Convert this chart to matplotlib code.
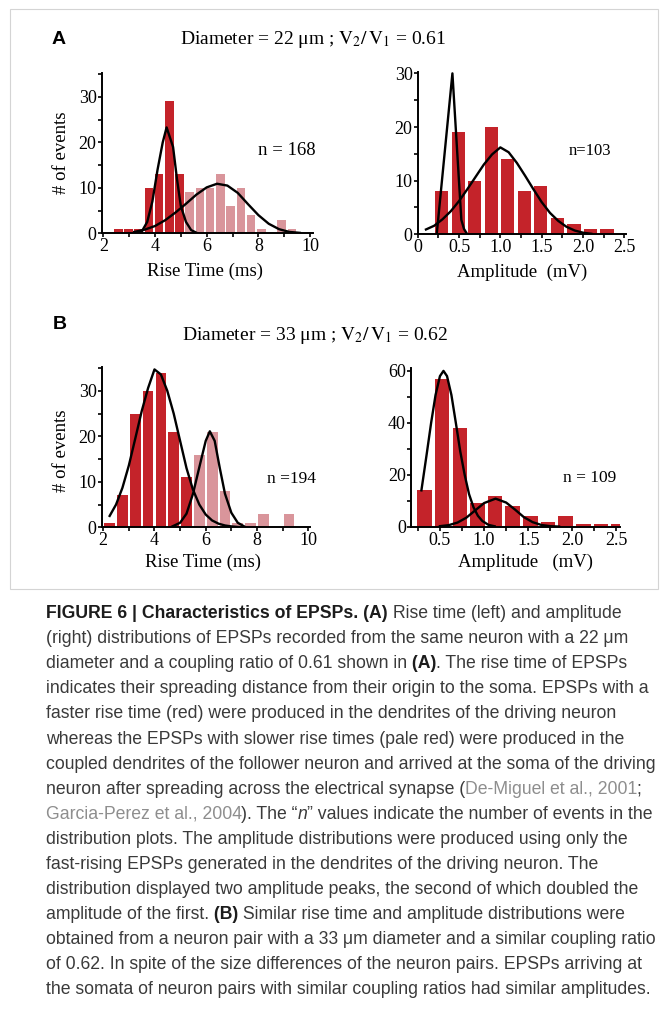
import matplotlib
matplotlib.use("Agg")
import matplotlib.pyplot as plt
from matplotlib.font_manager import FontProperties
from matplotlib.patches import Rectangle

W, H, DPI = 668, 1010, 100

# ---------------- data ----------------
# Panel A - rise time (ms)
a_rise_fast_x = [2.58, 2.975, 3.37, 3.765, 4.16, 4.555, 4.95]
a_rise_fast_n = [1, 1, 1, 10, 13, 29, 13]
a_rise_slow_x = [5.345, 5.74, 6.135, 6.53, 6.925, 7.32, 7.715, 8.11, 8.505, 8.9, 9.295]
a_rise_slow_n = [9, 10, 10, 13, 6, 10, 4, 1, 0, 3, 1]
a_rise_fit1_x = [3.2, 3.5, 3.7, 3.9, 4.1, 4.3, 4.45, 4.7, 4.85, 5.0, 5.2, 5.4, 5.65]
a_rise_fit1_y = [0, 0.5, 2.5, 7, 14, 20, 23.3, 19, 12, 6, 2.5, 0.7, 0]
a_rise_fit2_x = [3.2, 3.6, 4.0, 4.4, 4.8, 5.2, 5.6, 6.0, 6.4, 6.8, 7.2, 7.6, 8.0, 8.4, 8.8, 9.2, 9.6]
a_rise_fit2_y = [0.3, 0.8, 1.6, 2.9, 4.6, 6.5, 8.5, 10.1, 10.9, 10.5, 8.9, 6.4, 4.0, 2.1, 0.9, 0.3, 0.1]

# Panel A - amplitude (mV)
a_amp_x = [0.29, 0.49, 0.69, 0.89, 1.09, 1.29, 1.49, 1.69, 1.89, 2.09, 2.29]
a_amp_n = [8, 19, 10, 20, 14, 8, 9, 3, 2, 1, 1]
a_amp_fit1_x = [0.23, 0.42, 0.528, 0.56, 0.6]
a_amp_fit1_y = [0, 30, 2.7, 1.0, 0]
a_amp_fit2_x = [0.1, 0.2, 0.3, 0.4, 0.5, 0.6, 0.7, 0.8, 0.9, 1.0, 1.1, 1.2, 1.3, 1.4,
                1.5, 1.6, 1.7, 1.8, 1.9, 2.0, 2.1]
a_amp_fit2_y = [0.9, 1.6, 2.8, 4.3, 6.2, 8.4, 10.7, 13.0, 14.9, 16.2, 15.3, 13.3, 10.9, 8.4,
                6.0, 4.0, 2.5, 1.4, 0.7, 0.3, 0.1]

# Panel B - rise time (ms)
b_rise_fast_x = [2.25, 2.75, 3.25, 3.75, 4.25, 4.75, 5.25]
b_rise_fast_n = [1, 7, 25, 30, 34, 21, 11]
b_rise_slow_x = [5.75, 6.25, 6.75, 7.25, 7.75, 8.25, 8.75, 9.25]
b_rise_slow_n = [16, 21, 8, 1, 1, 3, 0, 3]
b_rise_fit1_x = [2.25, 2.5, 2.75, 3.0, 3.25, 3.5, 3.75, 4.0, 4.25, 4.5, 4.75, 5.0, 5.25,
                 5.5, 5.75, 6.0, 6.25, 6.5, 6.75, 7.0, 7.3]
b_rise_fit1_y = [2.5, 5.0, 8.7, 13.6, 19.5, 25.5, 30.6, 34.7, 33.6, 30.0, 25.0, 19.0, 13.0,
                 8.3, 5.0, 2.8, 1.5, 0.8, 0.4, 0.2, 0.05]
b_rise_fit2_x = [4.7, 5.0, 5.25, 5.5, 5.75, 6.0, 6.16, 6.35, 6.55, 6.75, 7.0, 7.25, 7.5]
b_rise_fit2_y = [0.2, 1.0, 3.0, 7.3, 13.2, 19.0, 21.1, 19.0, 13.0, 7.4, 3.2, 1.0, 0.2]

# Panel B - amplitude (mV)
b_amp_x = [0.325, 0.525, 0.725, 0.925, 1.125, 1.325, 1.525, 1.725, 1.925, 2.125, 2.325, 2.525]
b_amp_n = [14, 57, 38, 9, 12, 8, 4, 2, 4, 1, 1, 1]
b_amp_fit1_x = [0.29, 0.35, 0.40, 0.45, 0.50, 0.54, 0.58, 0.63, 0.68, 0.73, 0.78, 0.83,
                0.88, 0.93, 0.98, 1.05, 1.12]
b_amp_fit1_y = [14, 28, 40, 50.7, 58, 60, 58, 50.7, 40, 29, 20, 12.5, 7.5, 4.2, 2.2, 0.7, 0.15]
b_amp_fit2_x = [0.5, 0.6, 0.7, 0.8, 0.9, 1.0, 1.13, 1.25, 1.35, 1.45, 1.55, 1.65, 1.75, 1.85]
b_amp_fit2_y = [0.2, 0.6, 1.6, 3.5, 6.3, 9.1, 10.8, 9.3, 6.6, 3.7, 1.75, 0.66, 0.2, 0.05]

# text
title_a = r"Diameter = 22 μm ; $\mathrm{V}_2/\,\mathrm{V}_1$ = 0.61"
title_b = r"Diameter = 33 μm ; $\mathrm{V}_2/\,\mathrm{V}_1$ = 0.62"
n_labels = ["n = 168", "n=103", "n =194", "n = 109"]
x_labels = ["Rise Time (ms)", "Amplitude  (mV)", "Rise Time (ms)", "Amplitude   (mV)"]
y_label = "# of events"
rise_ticks = [2, 4, 6, 8, 10]
rise_ticklabels = ["2", "4", "6", "8", "10"]
a_amp_ticks = [0, 0.5, 1.0, 1.5, 2.0, 2.5]
a_amp_ticklabels = ["0", "0.5", "1.0", "1.5", "2.0", "2.5"]
b_amp_ticks = [0.5, 1.0, 1.5, 2.0, 2.5]
b_amp_ticklabels = ["0.5", "1.0", "1.5", "2.0", "2.5"]
y30_ticks = [0, 10, 20, 30]
y60_ticks = [0, 20, 40, 60]

caption_lines = [
    [("FIGURE 6 | Characteristics of EPSPs. (A)", "b"), (" Rise time (left) and amplitude", "r")],
    [("(right) distributions of EPSPs recorded from the same neuron with a 22 μm", "r")],
    [("diameter and a coupling ratio of 0.61 shown in", "r"), (" (A)", "b"), (". The rise time of EPSPs", "r")],
    [("indicates their spreading distance from their origin to the soma. EPSPs with a", "r")],
    [("faster rise time (red) were produced in the dendrites of the driving neuron", "r")],
    [("whereas the EPSPs with slower rise times (pale red) were produced in the", "r")],
    [("coupled dendrites of the follower neuron and arrived at the soma of the driving", "r")],
    [("neuron after spreading across the electrical synapse (", "r"), ("De-Miguel et al., 2001", "c"), (";", "r")],
    [("Garcia-Perez et al., 2004", "c"), ("). The \u201c", "r"), ("n", "i"), ("\u201d values indicate the number of events in the", "r")],
    [("distribution plots. The amplitude distributions were produced using only the", "r")],
    [("fast-rising EPSPs generated in the dendrites of the driving neuron. The", "r")],
    [("distribution displayed two amplitude peaks, the second of which doubled the", "r")],
    [("amplitude of the first.", "r"), (" (B)", "b"), (" Similar rise time and amplitude distributions were", "r")],
    [("obtained from a neuron pair with a 33 μm diameter and a similar coupling ratio", "r")],
    [("of 0.62. In spite of the size differences of the neuron pairs. EPSPs arriving at", "r")],
    [("the somata of neuron pairs with similar coupling ratios had similar amplitudes.", "r")],
]

# ---------------- style ----------------
RED = "#c4232a"
PALE = "#d9959b"
SERIF = "Liberation Serif"
CAP = "Liberation Sans"

plt.rcParams["font.family"] = [SERIF, "DejaVu Serif"]

fig = plt.figure(figsize=(W / DPI, H / DPI), dpi=DPI)
renderer = fig.canvas.get_renderer()


def fx(x):
    return x / W


def fy(y):
    return 1 - y / H


def make_axes(l, r, t, b):
    return fig.add_axes([l / W, 1 - b / H, (r - l) / W, (b - t) / H])


def style(ax, xlim, ylim, xt, xtl, xminor, yt, yminor):
    ax.set_xlim(*xlim)
    ax.set_ylim(*ylim)
    for s in ("top", "right"):
        ax.spines[s].set_visible(False)
    for s in ("left", "bottom"):
        ax.spines[s].set_linewidth(1.4)
    ax.set_xticks(xt)
    ax.set_xticklabels(xtl)
    ax.set_xticks(xminor, minor=True)
    ax.set_yticks(yt)
    ax.set_yticklabels([str(v) for v in yt])
    ax.set_yticks(yminor, minor=True)
    ax.tick_params(which="both", direction="out", width=1.2, labelsize=13)
    ax.tick_params(which="major", length=3.2)
    ax.tick_params(which="minor", length=3.0)
    ax.tick_params(axis="y", pad=0.5)
    ax.tick_params(axis="x", pad=0.5)
    for lab in ax.get_xticklabels() + ax.get_yticklabels():
        lab.set_fontfamily(SERIF)


LW = 1.7

# Panel A left
ax1 = make_axes(101.7, 312.7, 73.3, 233.3)
ax1.bar(a_rise_fast_x, a_rise_fast_n, width=0.33, color=RED, zorder=2)
ax1.bar(a_rise_slow_x, a_rise_slow_n, width=0.33, color=PALE, zorder=2)
ax1.plot(a_rise_fit1_x, a_rise_fit1_y, color="black", lw=LW, zorder=3)
ax1.plot(a_rise_fit2_x, a_rise_fit2_y, color="black", lw=LW, zorder=3)
style(ax1, (1.94, 10.1), (0, 35.2), rise_ticks, rise_ticklabels, [3, 5, 7, 9],
      y30_ticks, [5, 15, 25, 35])

# Panel A right
ax2 = make_axes(417.7, 626, 72.3, 234.3)
ax2.bar(a_amp_x, a_amp_n, width=0.16, color=RED, zorder=2)
ax2.plot(a_amp_fit1_x, a_amp_fit1_y, color="black", lw=LW, zorder=3)
ax2.plot(a_amp_fit2_x, a_amp_fit2_y, color="black", lw=LW, zorder=3)
style(ax2, (0, 2.52), (0, 30.2), a_amp_ticks, a_amp_ticklabels, [0.25, 0.75, 1.25, 1.75, 2.25],
      y30_ticks, [5, 15, 25])

# Panel B left
ax3 = make_axes(101.7, 310, 366.7, 527.3)
ax3.bar(b_rise_fast_x, b_rise_fast_n, width=0.42, color=RED, zorder=2)
ax3.bar(b_rise_slow_x, b_rise_slow_n, width=0.42, color=PALE, zorder=2)
ax3.plot(b_rise_fit1_x, b_rise_fit1_y, color="black", lw=LW, zorder=3)
ax3.plot(b_rise_fit2_x, b_rise_fit2_y, color="black", lw=LW, zorder=3)
style(ax3, (1.94, 10.07), (0, 35.3), rise_ticks, rise_ticklabels, [3, 5, 7, 9],
      y30_ticks, [5, 15, 25, 35])

# Panel B right
ax4 = make_axes(411, 620, 368.3, 526.7)
ax4.bar(b_amp_x, b_amp_n, width=0.165, color=RED, zorder=2)
ax4.plot(b_amp_fit1_x, b_amp_fit1_y, color="black", lw=LW, zorder=3)
ax4.plot(b_amp_fit2_x, b_amp_fit2_y, color="black", lw=LW, zorder=3)
style(ax4, (0.172, 2.54), (0, 61), b_amp_ticks, b_amp_ticklabels, [0.25, 0.75, 1.25, 1.75, 2.25],
      y60_ticks, [10, 30, 50])

# panel letters / titles
fig.text(fx(52), fy(44), "A", fontfamily="Liberation Sans", fontweight="bold", fontsize=14,
         ha="left", va="baseline")
fig.text(fx(53), fy(328.5), "B", fontfamily="Liberation Sans", fontweight="bold", fontsize=14,
         ha="left", va="baseline")
fig.text(fx(180), fy(43.5), title_a, fontsize=14, ha="left", va="baseline", math_fontfamily="stix")
fig.text(fx(182), fy(340), title_b, fontsize=14, ha="left", va="baseline", math_fontfamily="stix")

# n labels
fig.text(fx(258), fy(155), n_labels[0], fontsize=13.5, ha="left", va="baseline")
fig.text(fx(569), fy(155), n_labels[1], fontsize=12, ha="left", va="baseline")
fig.text(fx(267), fy(483), n_labels[2], fontsize=12.5, ha="left", va="baseline")
fig.text(fx(563), fy(482), n_labels[3], fontsize=12.5, ha="left", va="baseline")

# axis labels
fig.text(fx(205), fy(271), x_labels[0], fontsize=13.5, ha="center", va="center")
fig.text(fx(522), fy(272), x_labels[1], fontsize=13.5, ha="center", va="center")
fig.text(fx(203), fy(562), x_labels[2], fontsize=13.5, ha="center", va="center")
fig.text(fx(525), fy(562), x_labels[3], fontsize=13.5, ha="center", va="center")
fig.text(fx(62), fy(153), y_label, fontsize=13.5, rotation=90, ha="center", va="center")
fig.text(fx(62), fy(451), y_label, fontsize=13.5, rotation=90, ha="center", va="center")

# frame around the figure panels
fig.patches.append(Rectangle((fx(10), fy(589)), (658 - 10) / W, (589 - 9) / H,
                             transform=fig.transFigure, fill=False,
                             edgecolor="#d4d4d4", lw=0.8))

# ---------------- caption ----------------
KIND = {
    "r": dict(weight="normal", style="normal", color="#3a3a3a"),
    "b": dict(weight="bold", style="normal", color="#1c1c1c"),
    "c": dict(weight="normal", style="normal", color="#8e8e8e"),
    "i": dict(weight="normal", style="italic", color="#3a3a3a"),
}


def twidth(s, size, kind):
    fp = FontProperties(family=CAP, size=size, weight=KIND[kind]["weight"], style=KIND[kind]["style"])
    w, h, d = renderer.get_text_width_height_descent(s, fp, ismath=False)
    return w


ref_line = caption_lines[6][0][0]
cap_size = 10 * (660 - 46) / twidth(ref_line, 10, "r")

x0 = 46
base0 = 618
step = 25.1
for i, segs in enumerate(caption_lines):
    x = x0
    base = base0 + i * step
    for j, (s, k) in enumerate(segs):
        st = KIND[k]
        fig.text(fx(x), fy(base), s, fontfamily=CAP, fontsize=cap_size, fontweight=st["weight"],
                 fontstyle=st["style"], color=st["color"], ha="left", va="baseline")
        x += twidth(s, cap_size, k)
        if j + 1 < len(segs) and not segs[j + 1][0].startswith(" "):
            x -= 0.5

fig.savefig("out.png", dpi=DPI)
